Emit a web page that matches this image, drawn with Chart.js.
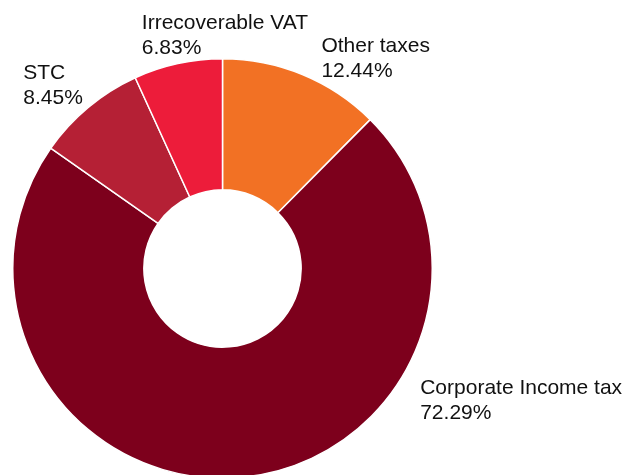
<!DOCTYPE html>
<html>
<head>
<meta charset="utf-8">
<script src="https://cdn.jsdelivr.net/npm/chart.js@4/dist/chart.umd.min.js"></script>
<style>
  html, body { margin: 0; padding: 0; background: #fff; overflow: hidden; }
  #wrap { width: 627px; height: 480px; }
</style>
</head>
<body>
<div id="wrap"><canvas id="chartTaxes" width="627" height="480"></canvas></div>
<script>
// Répartition des impôts (en %)
const categories = ['Other taxes', 'Corporate Income tax', 'STC', 'Irrecoverable VAT'];
const shares = [12.44, 72.29, 8.45, 6.83];
const sliceColors = ['#F27124', '#7D001C', '#B52035', '#ED1C3A'];

// décalage de chaque étiquette par rapport au bord extérieur de sa part
const labelOffsets = [
  { dx: 19, dy: -23 },
  { dx: 179, dy: -83 },
  { dx: -65, dy: -28 },
  { dx: -36, dy: -35 }
];

const sliceLabels = {
  id: 'sliceLabels',
  afterDraw(chart) {
    const ctx = chart.ctx;
    const arcs = chart.getDatasetMeta(0).data;
    ctx.save();
    ctx.font = '21px "Liberation Sans", Arial, sans-serif';
    ctx.fillStyle = '#111111';
    ctx.textAlign = 'left';
    ctx.textBaseline = 'alphabetic';
    arcs.forEach((arc, i) => {
      const p = arc.getProps(['x', 'y', 'startAngle', 'endAngle', 'outerRadius'], true);
      const mid = (p.startAngle + p.endAngle) / 2;
      const ax = p.x + Math.cos(mid) * p.outerRadius + labelOffsets[i].dx;
      const ay = p.y + Math.sin(mid) * p.outerRadius + labelOffsets[i].dy;
      ctx.fillText(categories[i], ax, ay);
      ctx.fillText(shares[i].toFixed(2) + '%', ax, ay + 25);
    });
    ctx.restore();
  }
};

new Chart(document.getElementById('chartTaxes'), {
  type: 'doughnut',
  data: {
    labels: categories,
    datasets: [{
      data: shares,
      backgroundColor: sliceColors,
      borderColor: '#ffffff',
      borderWidth: 1.5
    }]
  },
  options: {
    responsive: false,
    animation: false,
    cutout: '37.5%',
    layout: { padding: { left: 12, right: 194, top: 58, bottom: 1 } },
    plugins: {
      legend: { display: false },
      tooltip: { enabled: false }
    }
  },
  plugins: [sliceLabels]
});
</script>
</body>
</html>
